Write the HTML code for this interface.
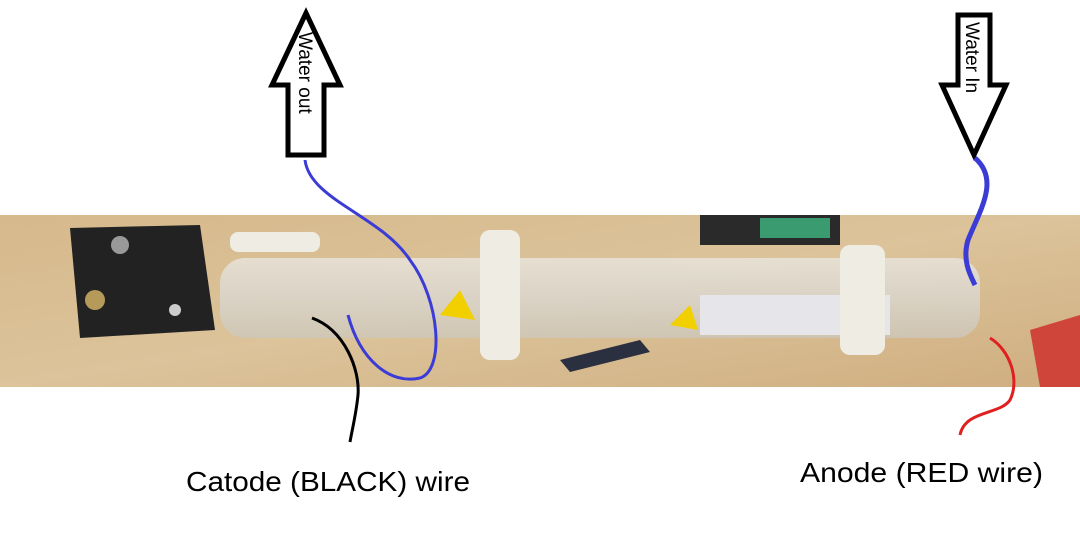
<!DOCTYPE html>
<html><head><meta charset="utf-8"><style>
html,body{margin:0;padding:0;background:#fff;}
svg{display:block;}
text{font-family:"Liberation Sans","DejaVu Sans",sans-serif;}
</style></head><body>
<svg width="1080" height="535" viewBox="0 0 1080 535">
<defs>
<linearGradient id="wood" x1="0" y1="0" x2="1" y2="1">
<stop offset="0" stop-color="#d6b98c"/><stop offset="0.5" stop-color="#dcc39a"/><stop offset="1" stop-color="#cfae80"/>
</linearGradient>
<linearGradient id="glass" x1="0" y1="0" x2="0" y2="1">
<stop offset="0" stop-color="#e8e6e0"/><stop offset="0.5" stop-color="#dad7d0"/><stop offset="1" stop-color="#cdc7ba"/>
</linearGradient>
</defs>
<rect width="1080" height="535" fill="#fff"/>
<g>
<rect x="0" y="215" width="1080" height="172" fill="url(#wood)"/>
<rect x="700" y="215" width="140" height="30" fill="#2a2a2a"/>
<rect x="760" y="218" width="70" height="20" fill="#3a9a70"/>
<polygon points="70,228 200,225 215,330 80,338" fill="#222"/>
<circle cx="120" cy="245" r="9" fill="#999"/><circle cx="95" cy="300" r="10" fill="#b59a5a"/><circle cx="175" cy="310" r="6" fill="#ccc"/>
<rect x="220" y="258" width="760" height="80" rx="25" fill="url(#glass)" opacity="0.8"/>
<rect x="700" y="295" width="190" height="40" fill="#e6e6ea"/>
<rect x="480" y="230" width="40" height="130" rx="10" fill="#efece4"/>
<rect x="840" y="245" width="45" height="110" rx="10" fill="#efece4"/>
<rect x="230" y="232" width="90" height="20" rx="8" fill="#efece4"/>
<polygon points="1030,330 1080,315 1080,387 1040,387" fill="#d0453a"/>
<polygon points="440,315 460,290 475,320" fill="#f2d000"/>
<polygon points="670,325 690,305 698,330" fill="#f2d000"/>
<path d="M560 360 L640 340 L650 352 L570 372 Z" fill="#2a3040"/>
</g>
<g>
<polygon points="306,13 340,85 324,85 324,155 288,155 288,85 272,85" fill="#fff" stroke="#000" stroke-width="5"/>
<text x="0" y="0" transform="translate(299,32) rotate(90)" font-size="19" fill="#000">Water out</text>
</g>
<g>
<polygon points="958,15 990,15 990,85 1006,85 974,155 942,85 958,85" fill="#fff" stroke="#000" stroke-width="5"/>
<text x="0" y="0" transform="translate(966,22) rotate(90)" font-size="19" fill="#000">Water In</text>
</g>
<path d="M305 160 C310 200 380 215 410 260 C440 300 445 370 420 378 C390 385 360 360 348 315" fill="none" stroke="#3b3bd6" stroke-width="3"/>
<path d="M975 158 C1000 180 980 210 968 240 C962 260 970 275 975 285" fill="none" stroke="#3b3bd6" stroke-width="5"/>
<path d="M312 318 C345 330 360 370 358 395 C356 415 352 430 350 442" fill="none" stroke="#000" stroke-width="3"/>
<path d="M990 338 C1010 350 1020 380 1010 400 C1000 415 965 410 960 435" fill="none" stroke="#e02020" stroke-width="3"/>
<text x="186" y="491" font-size="28" fill="#000" textLength="284" lengthAdjust="spacingAndGlyphs">Catode (BLACK) wire</text>
<text x="800" y="482" font-size="28" fill="#000" textLength="243" lengthAdjust="spacingAndGlyphs">Anode (RED wire)</text>
</svg>
</body></html>
